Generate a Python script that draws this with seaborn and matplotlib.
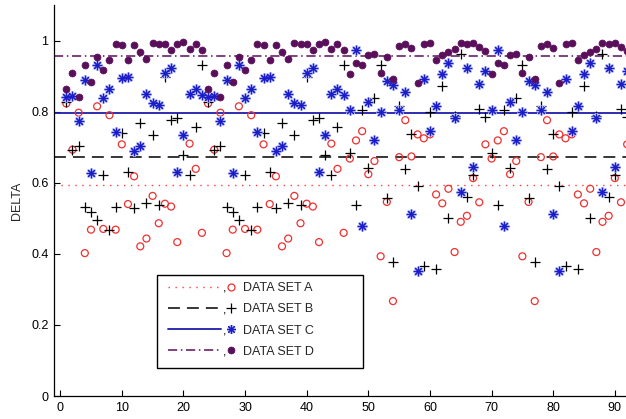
import numpy as np
import pandas as pd
import matplotlib
matplotlib.use("Agg")
import matplotlib.pyplot as plt
import seaborn as sns
from matplotlib.lines import Line2D
from matplotlib.text import Text
from matplotlib.patches import Rectangle
from matplotlib.legend_handler import HandlerBase

nan = np.nan

# sample index
x = np.arange(1, 93)

data_a = [0.823, 0.693, 0.797, 0.402, 0.468, 0.815, 0.470, 0.790, 0.468, 0.708, 0.540, 0.618,
          0.421, 0.443, 0.563, 0.486, 0.541, 0.533, 0.433, nan, 0.710, 0.639, 0.459,
          0.823, 0.693, 0.797, 0.402, 0.468, 0.815, 0.470, 0.790, 0.468, 0.708, 0.540, 0.618,
          0.421, 0.443, 0.563, 0.486, 0.541, 0.533, 0.433, nan, 0.710, 0.639, 0.459,
          0.668, 0.719, 0.745, 0.624, 0.661, 0.393, 0.546, 0.267, 0.672, 0.776, 0.674, 0.736,
          0.725, 0.736, 0.567, 0.542, 0.583, 0.405, 0.490, 0.507, 0.613, 0.545, 0.708,
          0.668, 0.719, 0.745, 0.624, 0.661, 0.393, 0.546, 0.267, 0.672, 0.776, 0.674, 0.736,
          0.725, 0.736, 0.567, 0.542, 0.583, 0.405, 0.490, 0.507, 0.613, 0.545, 0.708]

data_b = [0.828, 0.691, 0.702, 0.531, 0.517, 0.496, 0.623, 0.468, 0.531, 0.740, 0.630, 0.528,
          0.768, 0.543, 0.735, 0.538, 0.898, 0.777, 0.782, 0.678, 0.623, 0.757, 0.931,
          0.828, 0.691, 0.702, 0.531, 0.517, 0.496, 0.623, 0.468, 0.531, 0.740, 0.630, 0.528,
          0.768, 0.543, 0.735, 0.538, 0.898, 0.777, 0.782, 0.678, 0.623, 0.757, 0.931,
          0.683, 0.536, 0.804, 0.641, 0.837, 0.932, 0.557, 0.376, 0.817, 0.639, 0.736, 0.592,
          0.367, 0.798, 0.357, 0.873, 0.500, 0.787, 0.962, 0.561, 0.623, 0.807, 0.784,
          0.683, 0.536, 0.804, 0.641, 0.837, 0.932, 0.557, 0.376, 0.817, 0.639, 0.736, 0.592,
          0.367, 0.798, 0.357, 0.873, 0.500, 0.787, 0.962, 0.561, 0.623, 0.807, 0.784]

data_c = [0.840, 0.844, 0.774, 0.890, 0.626, 0.931, 0.838, 0.863, 0.744, 0.894, 0.897, 0.690,
          0.702, 0.849, 0.823, 0.818, 0.910, 0.924, 0.630, 0.733, 0.850, 0.865, 0.847,
          0.840, 0.844, 0.774, 0.890, 0.626, 0.931, 0.838, 0.863, 0.744, 0.894, 0.897, 0.690,
          0.702, 0.849, 0.823, 0.818, 0.910, 0.924, 0.630, 0.733, 0.850, 0.865, 0.847,
          0.805, 0.973, 0.477, 0.827, 0.721, 0.798, 0.886, 0.875, 0.806, 0.855, 0.513, 0.353,
          0.893, 0.745, 0.815, 0.906, 0.937, 0.782, 0.573, 0.923, 0.643, 0.877, 0.914,
          0.805, 0.973, 0.477, 0.827, 0.721, 0.798, 0.886, 0.875, 0.806, 0.855, 0.513, 0.353,
          0.893, 0.745, 0.815, 0.906, 0.937, 0.782, 0.573, 0.923, 0.643, 0.877, 0.914]

data_d = [0.864, 0.909, 0.841, 0.930, 0.883, 0.954, 0.918, 0.946, 0.989, 0.988, 0.946, 0.987,
          0.968, 0.947, 0.993, 0.991, 0.991, 0.972, 0.990, 0.995, 0.977, 0.991, 0.972,
          0.864, 0.909, 0.841, 0.930, 0.883, 0.954, 0.918, 0.946, 0.989, 0.988, 0.946, 0.987,
          0.968, 0.947, 0.993, 0.991, 0.991, 0.972, 0.990, 0.995, 0.977, 0.991, 0.972,
          0.907, 0.937, 0.930, 0.958, 0.961, 0.909, 0.955, 0.892, 0.984, 0.990, 0.980, 0.880,
          0.989, 0.994, 0.946, 0.959, 0.968, 0.977, 0.993, 0.990, 0.992, 0.982, 0.971,
          0.907, 0.937, 0.930, 0.958, 0.961, 0.909, 0.955, 0.892, 0.984, 0.990, 0.980, 0.880,
          0.989, 0.994, 0.946, 0.959, 0.968, 0.977, 0.993, 0.990, 0.992, 0.982, 0.971]

series_names = ["DATA SET A", "DATA SET B", "DATA SET C", "DATA SET D"]
x_ticks = [0, 10, 20, 30, 40, 50, 60, 70, 80, 90]
y_ticks = [0, 0.2, 0.4, 0.6, 0.8, 1.0]
y_tick_labels = ["0", "0.2", "0.4", "0.6", "0.8", "1"]

df = pd.concat(
    [pd.DataFrame({"x": x, "delta": vals, "set": name})
     for name, vals in zip(series_names, [data_a, data_b, data_c, data_d])],
    ignore_index=True)

sns.set_style("white")
plt.rcParams["font.family"] = ["Liberation Sans", "DejaVu Sans"]

ASTERISK = (8, 2, 0)
styles = {
    "DATA SET A": dict(line=dict(color="#ff3c3c", ls=(0, (1.0, 4.0)), lw=1.0),
                       markers=[dict(marker="o", mfc="none", mec="#f03030", ms=5.0, mew=0.9)]),
    "DATA SET B": dict(line=dict(color="black", ls=(0, (7.8, 4.6)), lw=1.1),
                       markers=[dict(marker="+", mfc="none", mec="black", ms=7.0, mew=0.9)]),
    "DATA SET C": dict(line=dict(color="#1c1caa", ls="-", lw=1.3),
                       markers=[dict(marker=ASTERISK, mfc="none", mec="#b4bef4", ms=6.2, mew=1.8),
                                dict(marker=ASTERISK, mfc="none", mec="#1c1cc8", ms=6.2, mew=0.8)]),
    "DATA SET D": dict(line=dict(color="#5a0f5a", ls=(0, (6.0, 2.4, 1.0, 2.4)), lw=1.1),
                       markers=[dict(marker="o", mfc="#5a0f5a", mec="#5a0f5a", ms=5.0, mew=0.5)]),
}

fig = plt.figure(figsize=(6.26, 4.19), dpi=100)
ax = fig.add_axes([54 / 626, 23 / 419, 575 / 626, 391 / 419])

# scatter markers for each data set
for name in series_names:
    sub = df[df["set"] == name]
    for mk in styles[name]["markers"]:
        if mk["marker"] == "o":
            kw = dict(color=mk["mec"], facecolor=mk["mfc"], edgecolor=mk["mec"])
        else:
            kw = dict(color=mk["mec"])
        sns.scatterplot(data=sub, x="x", y="delta", ax=ax, legend=False,
                        marker=mk["marker"], s=mk["ms"] ** 2,
                        linewidth=mk["mew"], zorder=3, **kw)

# mean level of each data set
for name in series_names:
    mean_val = np.nanmean(df.loc[df["set"] == name, "delta"])
    ln = styles[name]["line"]
    ax.axhline(mean_val, color=ln["color"], linestyle=ln["ls"], linewidth=ln["lw"], zorder=2)

ax.set_xlim(-1, 92.3)
ax.set_ylim(0, 1.1)
ax.set_xticks(x_ticks)
ax.set_yticks(y_ticks)
ax.set_yticklabels(y_tick_labels)
ax.set_xlabel("")
ax.set_ylabel("DELTA", fontsize=9, labelpad=6)
ax.tick_params(direction="in", length=4, width=0.8, labelsize=9, pad=4,
               bottom=True, left=True, colors="black")
for side in ("top", "right"):
    ax.spines[side].set_visible(False)
for side in ("left", "bottom"):
    ax.spines[side].set_color("black")
    ax.spines[side].set_linewidth(0.9)


class LegendEntry:
    def __init__(self, name):
        self.name = name


class LineCommaMarker(HandlerBase):
    """Legend key: line sample, a comma, then the marker."""

    def create_artists(self, legend, orig_handle, xdescent, ydescent,
                       width, height, fontsize, trans):
        st = styles[orig_handle.name]
        y = (height - ydescent) / 2
        x0 = -xdescent
        ln = st["line"]
        line = Line2D([x0, x0 + width * 0.78], [y, y], color=ln["color"],
                      linestyle=ln["ls"], linewidth=ln["lw"], transform=trans)
        comma = Text(x0 + width * 0.815, y - fontsize * 0.42, ",", fontsize=fontsize,
                     ha="left", va="baseline", color="black", transform=trans)
        arts = [line, comma]
        for mk in st["markers"]:
            arts.append(Line2D([x0 + width * 0.93], [y], linestyle="none",
                               marker=mk["marker"], markersize=mk["ms"],
                               markerfacecolor=mk["mfc"], markeredgecolor=mk["mec"],
                               markeredgewidth=mk["mew"], transform=trans))
        return arts


# legend box outline, drawn beneath the legend entries
ax.add_patch(Rectangle((157 / 626, 1 - 368 / 419), 206 / 626, 93 / 419,
                       transform=fig.transFigure, clip_on=False, fill=True,
                       facecolor="white", edgecolor="black", linewidth=1.0, zorder=4))

entries = [LegendEntry(n) for n in series_names]
leg = ax.legend(entries, series_names, handler_map={LegendEntry: LineCommaMarker()},
                loc="upper left", bbox_to_anchor=(163 / 626, 1 - 277 / 419),
                bbox_transform=fig.transFigure, frameon=False, fontsize=9,
                handlelength=5.4, handletextpad=0.6, labelspacing=0.74,
                borderpad=0.4, borderaxespad=0)
leg.set_zorder(5)

fig.savefig("out.png", dpi=100)
